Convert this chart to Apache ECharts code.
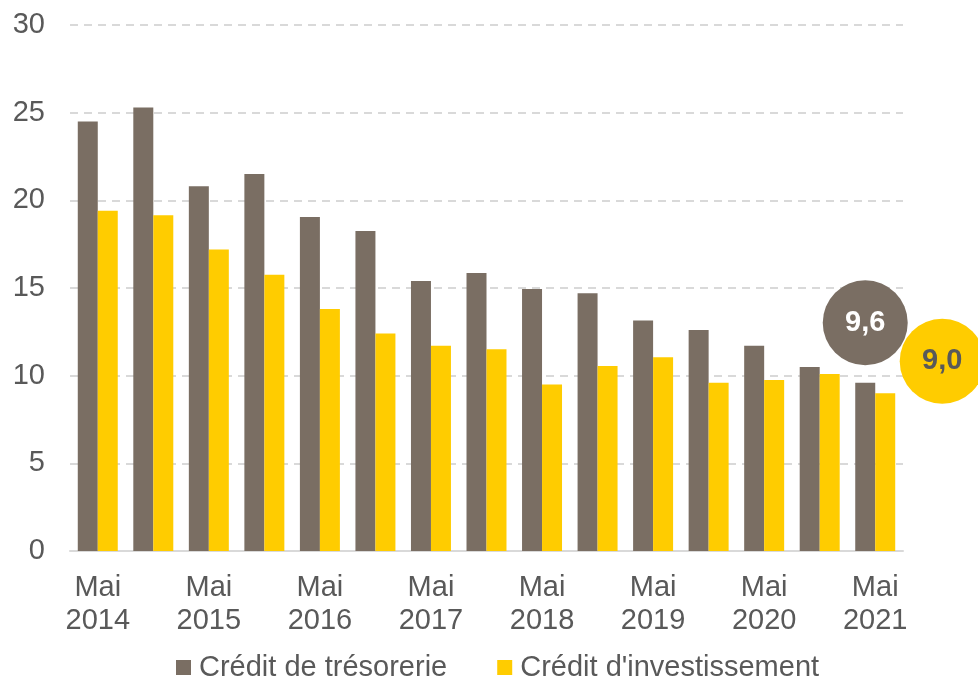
<!DOCTYPE html>
<html>
<head>
<meta charset="utf-8">
<script src="https://cdn.jsdelivr.net/npm/echarts@6/dist/echarts.min.js"></script>
<style>html,body{margin:0;padding:0;background:#fff}#c{width:978px;height:680px}</style>
</head>
<body>
<div id="c"></div>
<script>
var categories = ['Mai\n2014','Nov\n2014','Mai\n2015','Nov\n2015','Mai\n2016','Nov\n2016','Mai\n2017','Nov\n2017','Mai\n2018','Nov\n2018','Mai\n2019','Nov\n2019','Mai\n2020','Nov\n2020','Mai\n2021'];
var tresorerie = [24.5, 25.3, 20.8, 21.5, 19.05, 18.25, 15.4, 15.85, 14.95, 14.7, 13.15, 12.6, 11.7, 10.5, 9.6];
var investissement = [19.4, 19.15, 17.2, 15.75, 13.8, 12.4, 11.7, 11.5, 9.5, 10.55, 11.05, 9.6, 9.75, 10.1, 9.0];
var seriesNames = ['Crédit de trésorerie', "Crédit d'investissement"];
var last = categories.length - 1;

var chart = echarts.init(document.getElementById('c'));
chart.setOption({
  animation: false,
  grid: {left: 70, right: 75, top: 25, bottom: 129},
  legend: {
    top: 648, left: 171, itemWidth: 15, itemHeight: 15, itemGap: 50, icon: 'rect',
    textStyle: {fontFamily: 'Liberation Sans', fontSize: 29, color: '#595959', padding: [0, 0, 0, 3]},
    data: seriesNames
  },
  xAxis: {
    type: 'category', data: categories,
    axisLine: {lineStyle: {color: '#d9d9d9', width: 2}},
    axisTick: {show: false},
    axisLabel: {interval: 1, color: '#595959', fontFamily: 'Liberation Sans', fontSize: 29, lineHeight: 33, margin: 20}
  },
  yAxis: {
    type: 'value', min: 0, max: 30, interval: 5,
    axisLine: {show: false}, axisTick: {show: false},
    splitLine: {lineStyle: {color: '#d9d9d9', type: [8, 6], width: 2}},
    axisLabel: {color: '#595959', fontFamily: 'Liberation Sans', fontSize: 29, margin: 25}
  },
  series: [
    {
      name: seriesNames[0], type: 'bar', data: tresorerie, barGap: '0%', barCategoryGap: '28%',
      itemStyle: {color: '#7a6e63'},
      markPoint: {
        symbol: 'circle', symbolSize: 85, symbolOffset: [0, -60],
        itemStyle: {color: '#7a6e63'},
        label: {show: true, color: '#ffffff', fontWeight: 'bold', fontSize: 29, fontFamily: 'Liberation Sans',
          formatter: function(p){ return p.value.toFixed(1).replace('.', ','); }},
        data: [{coord: [last, tresorerie[last]], value: tresorerie[last]}]
      }
    },
    {
      name: seriesNames[1], type: 'bar', data: investissement,
      itemStyle: {color: '#ffcc00'},
      markPoint: {
        symbol: 'circle', symbolSize: 85, symbolOffset: [57, -32],
        itemStyle: {color: '#ffcc00'},
        label: {show: true, color: '#595959', fontWeight: 'bold', fontSize: 29, fontFamily: 'Liberation Sans',
          formatter: function(p){ return p.value.toFixed(1).replace('.', ','); }},
        data: [{coord: [last, investissement[last]], value: investissement[last]}]
      }
    }
  ]
});
</script>
</body>
</html>
